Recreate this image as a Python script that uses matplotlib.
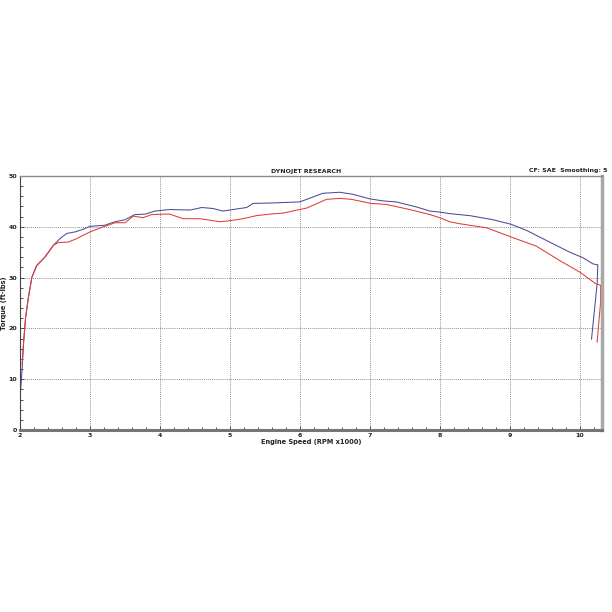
import numpy as np
import matplotlib.pyplot as plt
from matplotlib.ticker import MultipleLocator

# blue run (rpm x1000, ft-lbs)
rpm_blue = [2.01, 2.03, 2.05, 2.08, 2.12, 2.17, 2.24, 2.36, 2.48, 2.58, 2.67,
            2.79, 2.9, 3.0, 3.21, 3.36, 3.5, 3.64, 3.79, 3.93, 4.07, 4.14,
            4.43, 4.6, 4.76, 4.9, 5.14, 5.24, 5.33, 5.62, 6.0, 6.33, 6.57,
            6.76, 7.0, 7.19, 7.38, 7.67, 7.86, 8.0, 8.14, 8.43, 8.76, 9.02,
            9.24, 9.57, 9.86, 10.05, 10.19, 10.26, 10.25, 10.17]
torque_blue = [8.1, 12.0, 17.0, 22.2, 26.1, 30.1, 32.4, 34.1, 36.4, 37.8, 38.7,
               39.0, 39.5, 40.1, 40.3, 41.0, 41.4, 42.4, 42.5, 43.1, 43.3, 43.4,
               43.3, 43.8, 43.6, 43.1, 43.6, 43.8, 44.6, 44.7, 44.9, 46.6, 46.8,
               46.4, 45.5, 45.1, 44.9, 43.9, 43.1, 42.9, 42.6, 42.2, 41.4, 40.5,
               39.3, 37.0, 35.0, 33.9, 32.7, 32.5, 28.8, 17.9]

# red run
rpm_red = [2.03, 2.05, 2.08, 2.12, 2.17, 2.24, 2.36, 2.48, 2.55, 2.69, 2.8,
           3.0, 3.17, 3.36, 3.5, 3.62, 3.76, 3.88, 4.07, 4.14, 4.33, 4.57,
           4.86, 5.0, 5.19, 5.38, 5.57, 5.76, 6.0, 6.1, 6.38, 6.57, 6.74,
           7.02, 7.24, 7.57, 7.86, 8.0, 8.14, 8.29, 8.67, 9.02, 9.38, 9.71,
           10.0, 10.23, 10.30, 10.30, 10.25]
torque_red = [13.0, 17.0, 22.2, 26.1, 30.1, 32.4, 34.1, 36.4, 36.9, 37.0, 37.6,
              39.0, 39.9, 40.8, 40.8, 42.1, 41.8, 42.4, 42.5, 42.5, 41.6, 41.6,
              41.0, 41.2, 41.6, 42.2, 42.5, 42.7, 43.4, 43.7, 45.4, 45.6, 45.4,
              44.6, 44.4, 43.4, 42.4, 41.8, 41.0, 40.6, 39.8, 38.0, 36.2, 33.4,
              31.1, 28.8, 28.5, 25.2, 17.3]

x_ticks = [2, 3, 4, 5, 6, 7, 8, 9, 10]
y_ticks = [0, 10, 20, 30, 40, 50]

fig = plt.figure(figsize=(6.12, 6.12), dpi=100)
ax = fig.add_axes([0.0327, 0.2974, 0.951, 0.415])

ax.plot(rpm_blue, torque_blue, color="#4b4b96", linewidth=0.75)
ax.plot(rpm_red, torque_red, color="#e23a3a", linewidth=0.75)

ax.set_xlim(2, 10.32)
ax.set_ylim(0, 50)
ax.set_xticks(x_ticks)
ax.set_yticks(y_ticks)
ax.xaxis.set_minor_locator(MultipleLocator(0.2))
ax.yaxis.set_minor_locator(MultipleLocator(2))
ax.tick_params(axis="both", which="both", direction="in", labelsize=4.5,
               colors="#333333", pad=2)
ax.tick_params(which="major", length=3, width=0.6)
ax.tick_params(which="minor", length=2, width=0.6)
for lbl in ax.get_xticklabels() + ax.get_yticklabels():
    lbl.set_fontweight("bold")
    lbl.set_color("#222222")

ax.grid(True, which="major", linestyle=(0, (1.5, 1.5)), color="#6a6a6a",
        linewidth=0.5)

ax.spines["left"].set_color("#444444")
ax.spines["left"].set_linewidth(0.8)
ax.spines["top"].set_color("#8a8a8a")
ax.spines["top"].set_linewidth(1.0)
ax.spines["right"].set_color("#a8a8a8")
ax.spines["right"].set_linewidth(2.5)
ax.spines["bottom"].set_color("#757575")
ax.spines["bottom"].set_linewidth(2.2)

fig.text(0.5, 0.716, "DYNOJET RESEARCH", ha="center", va="bottom",
         fontsize=4.5, fontweight="bold", color="#222222")
fig.text(0.992, 0.718, "CF: SAE  Smoothing: 5", ha="right", va="bottom",
         fontsize=4.5, fontweight="bold", color="#222222")
ax.set_xlabel("Engine Speed (RPM x1000)", fontsize=4.8, fontweight="bold",
              color="#222222", labelpad=1)
ax.set_ylabel("Torque (ft-lbs)", fontsize=4.8, fontweight="bold",
              color="#222222", labelpad=1)

fig.savefig("out.png", dpi=100, facecolor="white")
plt.close(fig)
